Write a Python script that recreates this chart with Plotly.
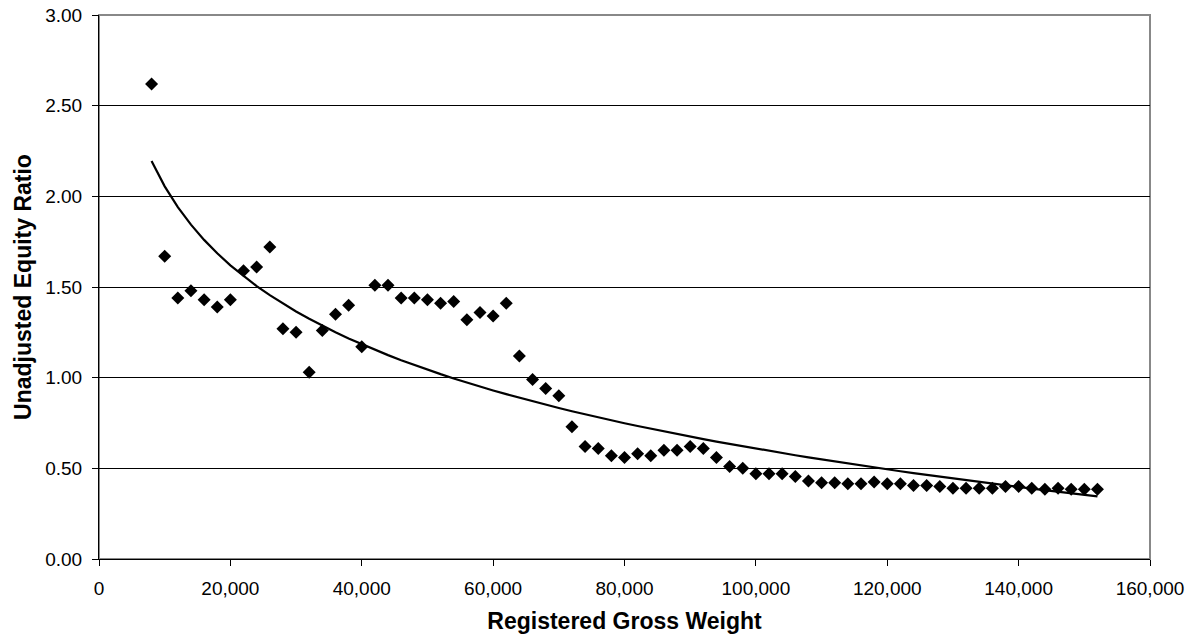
import numpy as np
import plotly.graph_objects as go

weights = [8000, 10000, 12000, 14000, 16000, 18000, 20000, 22000, 24000, 26000,
           28000, 30000, 32000, 34000, 36000, 38000, 40000, 42000, 44000, 46000,
           48000, 50000, 52000, 54000, 56000, 58000, 60000, 62000, 64000, 66000,
           68000, 70000, 72000, 74000, 76000, 78000, 80000, 82000, 84000, 86000,
           88000, 90000, 92000, 94000, 96000, 98000, 100000, 102000, 104000, 106000,
           108000, 110000, 112000, 114000, 116000, 118000, 120000, 122000, 124000, 126000,
           128000, 130000, 132000, 134000, 136000, 138000, 140000, 142000, 144000, 146000,
           148000, 150000, 152000]

ratios = [2.62, 1.67, 1.44, 1.48, 1.43, 1.39, 1.43, 1.59, 1.61, 1.72,
          1.27, 1.25, 1.03, 1.26, 1.35, 1.40, 1.17, 1.51, 1.51, 1.44,
          1.44, 1.43, 1.41, 1.42, 1.32, 1.36, 1.34, 1.41, 1.12, 0.99,
          0.94, 0.90, 0.73, 0.62, 0.61, 0.57, 0.56, 0.58, 0.57, 0.60,
          0.60, 0.62, 0.61, 0.56, 0.51, 0.50, 0.47, 0.47, 0.47, 0.455,
          0.43, 0.42, 0.42, 0.415, 0.415, 0.425, 0.415, 0.415, 0.405, 0.405,
          0.40, 0.39, 0.39, 0.39, 0.39, 0.40, 0.40, 0.39, 0.385, 0.39,
          0.385, 0.385, 0.385]

x_ticks = [0, 20000, 40000, 60000, 80000, 100000, 120000, 140000, 160000]
y_ticks = [0, 0.5, 1.0, 1.5, 2.0, 2.5, 3.0]

# Logarithmic trendline fitted to the data (as in the spreadsheet chart)
xa = np.array(weights, dtype=float)
ya = np.array(ratios, dtype=float)
b, a = np.polyfit(np.log(xa), ya, 1)
trend_y = a + b * np.log(xa)

FONT = "Liberation Sans, Arial, sans-serif"

fig = go.Figure()
fig.add_trace(go.Scatter(
    x=weights, y=ratios, mode="markers",
    marker=dict(symbol="diamond", size=10, color="black"),
    showlegend=False, hoverinfo="x+y"))
fig.add_trace(go.Scatter(
    x=weights, y=trend_y, mode="lines",
    line=dict(color="black", width=2.2),
    showlegend=False, hoverinfo="skip"))

fig.update_layout(
    width=1193, height=642,
    margin=dict(l=99, r=43, t=15, b=83, autoexpand=False),
    paper_bgcolor="white", plot_bgcolor="white",
    font=dict(family=FONT, size=19, color="black"),
    xaxis=dict(
        range=[0, 160000], tickvals=x_ticks, tickformat=",",
        showgrid=False, zeroline=False,
        showline=True, linecolor="black", linewidth=1,
        ticks="outside", ticklen=6, tickcolor="black",
        ticklabelstandoff=6,
        title=dict(text="<b>Registered Gross Weight</b>", font=dict(size=23, family=FONT), standoff=15),
    ),
    yaxis=dict(
        range=[0, 3], tickvals=y_ticks, tickformat=".2f",
        showgrid=True, gridcolor="black", gridwidth=1,
        zeroline=False,
        showline=True, linecolor="black", linewidth=1,
        ticks="outside", ticklen=6, tickcolor="black",
        ticklabelstandoff=6,
        title=dict(text="<b>Unadjusted Equity Ratio</b>", font=dict(size=23, family=FONT), standoff=7),
    ),
    shapes=[dict(type="rect", xref="paper", yref="paper", x0=0, x1=1, y0=0, y1=1,
                 line=dict(color="#888888", width=2), layer="below")],
)

fig.write_html("out.html", config={"displayModeBar": False},
               post_script="document.body.style.margin='0';document.body.style.overflow='hidden';")
